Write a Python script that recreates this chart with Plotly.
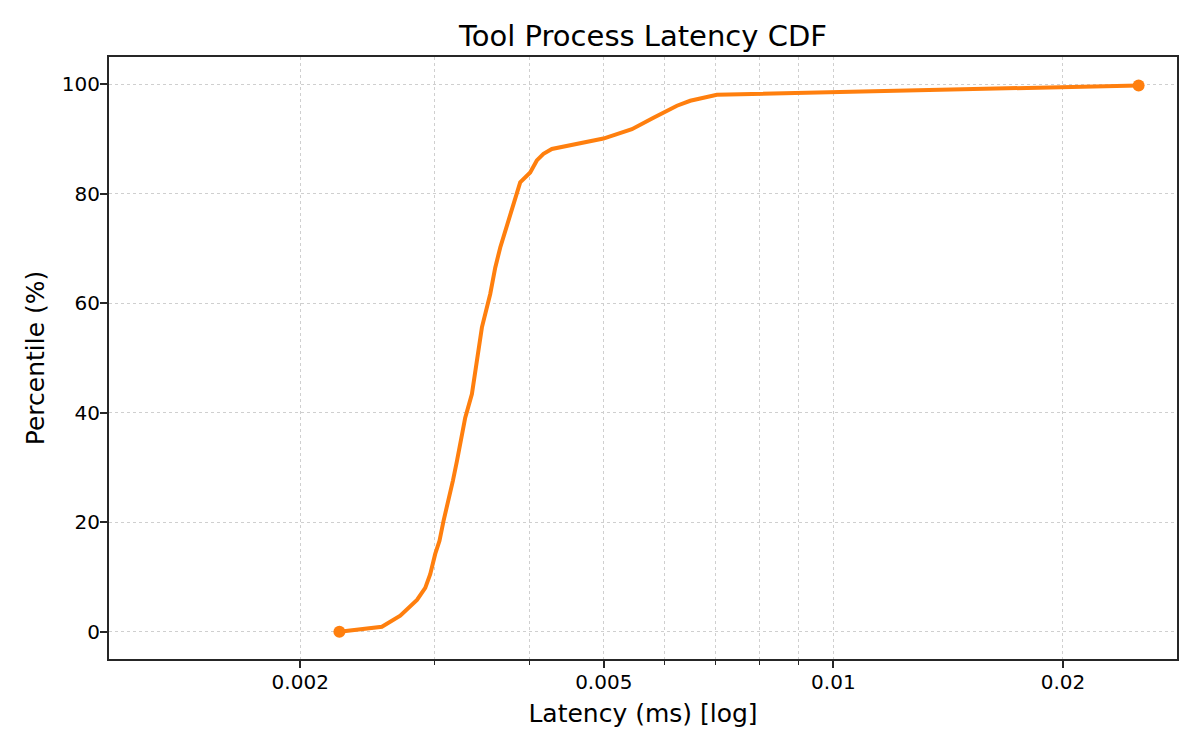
import plotly.graph_objects as go

# CDF points (latency in ms, percentile in %)
latency_ms = [
    0.002251, 0.002559, 0.002705, 0.002760, 0.002845, 0.002917, 0.002961,
    0.003006, 0.003045, 0.003082, 0.003129, 0.003171, 0.003210, 0.003242,
    0.003291, 0.003358, 0.003461, 0.003549, 0.003603, 0.003658, 0.003770,
    0.003885, 0.004004, 0.004085, 0.004168, 0.004275, 0.004995, 0.005443,
    0.005810, 0.006236, 0.006491, 0.007035, 0.025130,
]
percentile = [
    0.0, 0.9, 2.9, 4.1, 5.8, 8.0, 10.5,
    14.2, 16.6, 20.2, 23.9, 27.6, 31.2, 34.3,
    39.1, 43.4, 55.6, 61.7, 66.5, 70.2, 76.3,
    82.1, 83.9, 86.1, 87.3, 88.2, 90.1, 91.8,
    93.9, 96.1, 97.0, 98.1, 99.8,
]

x_tickvals = [0.002, 0.005, 0.01, 0.02]
x_ticktext = ['0.002', '0.005', '0.01', '0.02']
x_minorvals = [0.003, 0.004, 0.006, 0.007, 0.008, 0.009]
y_tickvals = [0, 20, 40, 60, 80, 100]

line_color = '#ff7f0e'
frame_color = '#262626'
grid_color = '#cfcfcf'

fig = go.Figure()

# main CDF line
fig.add_trace(go.Scatter(
    x=latency_ms,
    y=percentile,
    mode='lines',
    line=dict(color=line_color, width=4),
    showlegend=False,
))

# endpoints only get a dot
fig.add_trace(go.Scatter(
    x=[latency_ms[0], latency_ms[-1]],
    y=[percentile[0], percentile[-1]],
    mode='markers',
    marker=dict(color=line_color, size=12),
    showlegend=False,
))

# page body has an 8px margin, so the figure is a bit smaller than the window
fig.update_layout(
    width=1192,
    height=742,
    margin=dict(l=101, r=23, t=49, b=91),
    paper_bgcolor='white',
    plot_bgcolor='white',
    font=dict(family='DejaVu Sans', size=20, color='black'),
    title=dict(
        text='Tool Process Latency CDF',
        x=0.5,
        xref='paper',
        y=0.963,
        yref='container',
        yanchor='middle',
        font=dict(size=29),
    ),
    xaxis=dict(
        type='log',
        range=[-2.9497, -1.5495],
        tickmode='array',
        tickvals=x_tickvals,
        ticktext=x_ticktext,
        ticks='outside',
        ticklen=7,
        tickwidth=2,
        tickcolor=frame_color,
        ticklabelstandoff=-3,
        showline=True,
        mirror=True,
        linecolor=frame_color,
        linewidth=2,
        showgrid=True,
        gridcolor=grid_color,
        griddash='dot',
        gridwidth=1.3,
        zeroline=False,
        minor=dict(
            tickmode='array',
            tickvals=x_minorvals,
            ticks='outside',
            ticklen=4,
            tickwidth=1.3,
            tickcolor=frame_color,
            showgrid=True,
            gridcolor=grid_color,
            griddash='dot',
            gridwidth=1.3,
        ),
        title=dict(text='Latency (ms) [log]', font=dict(size=25), standoff=11),
    ),
    yaxis=dict(
        range=[-5, 105],
        tickmode='array',
        tickvals=y_tickvals,
        ticks='outside',
        ticklen=7,
        tickwidth=2,
        tickcolor=frame_color,
        ticklabelstandoff=-4,
        showline=True,
        mirror=True,
        linecolor=frame_color,
        linewidth=2,
        showgrid=True,
        gridcolor=grid_color,
        griddash='dot',
        gridwidth=1.3,
        zeroline=False,
        title=dict(text='Percentile (%)', font=dict(size=25), standoff=10),
    ),
)

fig.write_html('out.html')
